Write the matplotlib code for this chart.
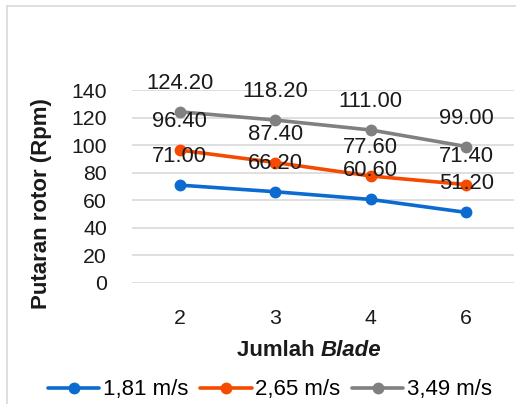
import matplotlib
matplotlib.use("Agg")
import matplotlib.pyplot as plt
from matplotlib.lines import Line2D

categories = ["2", "3", "4", "6"]
series_names = ["1,81 m/s", "2,65 m/s", "3,49 m/s"]
v181 = [71.00, 66.20, 60.60, 51.20]
v265 = [96.40, 87.40, 77.60, 71.40]
v349 = [124.20, 118.20, 111.00, 99.00]
yticks = [0, 20, 40, 60, 80, 100, 120, 140]

colors = ["#0B6BD0", "#F54A00", "#808080"]

plt.rcParams['font.family'] = ['Liberation Sans', 'DejaVu Sans']

W, H = 516, 404
fig = plt.figure(figsize=(W / 100, H / 100), dpi=100)
ax = fig.add_axes([132 / W, (H - 283) / H, (514 - 132) / W, (283 - 90) / H])

x = list(range(len(categories)))
for vals, name, c in zip([v181, v265, v349], series_names, colors):
    ax.plot(x, vals, color=c, lw=2.6, marker='o', ms=7.5, label=name, zorder=3,
            solid_capstyle='round')
for vals in [v181, v265, v349]:
    for xi, v in zip(x, vals):
        ax.annotate(f"{v:.2f}", (xi, v), xytext=(0, 20.5), textcoords='offset points',
                    ha='center', va='center', fontsize=15.8, color='#1a1a1a',
                    annotation_clip=False, zorder=5)

ax.set_xlim(-0.5, len(categories) - 0.5)
ax.set_ylim(0, 140)
ax.set_yticks(yticks)
ax.set_yticklabels([str(t) for t in yticks])
ax.set_xticks(x)
ax.set_xticklabels(categories)
ax.tick_params(axis='y', length=0, pad=18, labelsize=15.3, labelcolor='#1a1a1a')
ax.tick_params(axis='x', length=0, pad=19, labelsize=15.3, labelcolor='#1a1a1a')
ax.grid(axis='y', color='#D9D9D9', lw=1.2)
ax.set_axisbelow(True)
for s in ax.spines.values():
    s.set_visible(False)

fig.text(42 / W, 1 - 204 / H, "Putaran rotor (Rpm)", rotation=90, ha='center', va='center',
         fontsize=16, fontweight='bold', color='#1a1a1a')

# x-axis title: "Jumlah " bold + "Blade" bold italic, centred as a whole
cx, cy = 309 / W, 1 - 350 / H
t1 = fig.text(0, cy, "Jumlah ", ha='left', va='center', fontsize=16, fontweight='bold',
              color='#1a1a1a')
t2 = fig.text(0, cy, "Blade", ha='left', va='center', fontsize=16, fontweight='bold',
              fontstyle='italic', color='#1a1a1a')
fig.canvas.draw()
r = fig.canvas.get_renderer()
w1 = t1.get_window_extent(r).width / W
w2 = t2.get_window_extent(r).width / W
x0 = cx - (w1 + w2) / 2
t1.set_x(x0)
t2.set_x(x0 + w1)

handles, labels = ax.get_legend_handles_labels()
fig.legend(handles, labels, loc='center', bbox_to_anchor=(270 / W, 1 - 390 / H), ncol=3,
           frameon=False, fontsize=16, handlelength=2.3, handletextpad=0.15,
           columnspacing=0.55, borderaxespad=0, borderpad=0)

# figure frame (left and top edges visible)
fig.add_artist(Line2D([7 / W, 7 / W], [0, 1 - 6 / H], transform=fig.transFigure,
                      color='#D9D9D9', lw=1.2))
fig.add_artist(Line2D([7 / W, 1], [1 - 6 / H, 1 - 6 / H], transform=fig.transFigure,
                      color='#D9D9D9', lw=1.2))

fig.savefig("out.png", dpi=100)
